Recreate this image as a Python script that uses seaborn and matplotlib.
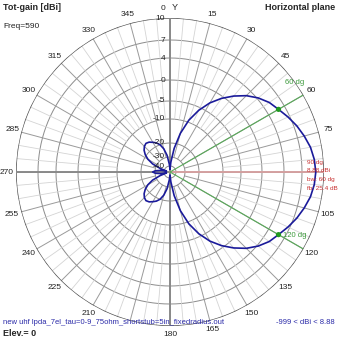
import numpy as np
import pandas as pd
import matplotlib
matplotlib.use("Agg")
import matplotlib.pyplot as plt
import seaborn as sns

# Horizontal-plane total gain (dBi) of the 7-element UHF LPDA, every 5 degrees
azimuth_deg = list(range(0, 360, 5))
gain_dbi = [
    -50.0, -35.6, -23.6, -15.4, -9.4, -5.8, -2.9, -0.5, 1.3, 2.9,      # 0-45
    4.2, 5.2, 5.88, 6.7, 7.4, 7.95, 8.45, 8.75, 8.88, 8.75,             # 50-95
    8.45, 7.95, 7.4, 6.7, 5.88, 5.2, 4.2, 2.9, 1.3, -0.5,               # 100-145
    -2.9, -5.8, -9.4, -15.4, -23.6, -35.6, -50.0, -37.8, -28.6, -23.6,  # 150-195
    -20.0, -18.7, -17.8, -16.9, -16.5, -17.0, -18.0, -19.5, -22.5, -27.0,  # 200-245
    -35.0, -48.0, -36.5, -30.5, -28.3, -30.5, -36.5, -48.0, -35.0, -27.0,  # 250-295
    -22.5, -19.5, -18.0, -17.0, -16.5, -16.9, -17.8, -18.7, -20.0, -23.6,  # 300-345
    -28.6, -37.8,                                                        # 350-355
]

ring_levels = [10, 7, 4, 0, -5, -10, -20, -30, -40]
ring_labels = ["10", "7", "4", "0", "-5", "-10", "-20", "-30", "-40"]
marker_angles = [60, 120]
max_gain = 8.88
beamwidth = 60
front_back = 25.4

# Log-like radial scale (dB -> relative radius)
_SCALE_DB = [-60, -40, -30, -20, -10, -5, 0, 4, 7, 10]
_SCALE_R = [0, 6, 15, 29, 53, 71, 92, 114, 132, 154]


def fwd(v):
    return np.interp(np.asarray(v, float), _SCALE_DB, _SCALE_R)


def inv(r):
    return np.interp(np.asarray(r, float), _SCALE_R, _SCALE_DB)


sns.set_theme(style="white")
plt.rcParams["font.family"] = ["Liberation Sans", "DejaVu Sans"]

W = H = 339
fig = plt.figure(figsize=(W / 100, H / 100), dpi=100)
fig.patch.set_facecolor("white")
cx, cy, R = 170, 172, 154
ax = fig.add_axes([(cx - R) / W, (H - cy - R) / H, 2 * R / W, 2 * R / H],
                  projection="polar")
ax.set_theta_zero_location("N")
ax.set_theta_direction(-1)
ax.set_rscale("function", functions=(fwd, inv))
ax.set_rlim(-60, 10)
ax.grid(False)
ax.set_xticks([])
ax.set_yticks([])
ax.spines["polar"].set_visible(False)
ax.set_facecolor("white")

full = np.linspace(0, 2 * np.pi, 721)
# concentric rings
for lvl in ring_levels[1:]:
    ax.plot(full, np.full_like(full, lvl), color="#8c8c8c", lw=0.7, zorder=1)
ax.plot(full, np.full_like(full, 10), color="#505050", lw=1.0, zorder=2)

# spokes: light every 5 deg, darker every 15 deg
for a in range(0, 360, 5):
    t = np.deg2rad(a)
    if a % 15 == 0:
        ax.plot([t, t], [-30, 10], color="#9a9a9a", lw=0.7, zorder=1)
    else:
        ax.plot([t, t], [-10, 10], color="#d4d4d4", lw=0.6, zorder=1)

# main axes
for a in (0, 180, 270):
    t = np.deg2rad(a)
    ax.plot([t, t], [-60, 10], color="#8a8a8a", lw=1.4, zorder=2)
ax.plot([np.pi / 2] * 2, [-60, 10], color="#d4a0a0", lw=1.4, zorder=2)
for a in marker_angles:
    t = np.deg2rad(a)
    ax.plot([t, t], [-60, 10], color="#5aaa5a", lw=0.8, zorder=2)

# gain pattern
df = pd.DataFrame({
    "theta": np.deg2rad(azimuth_deg + [360]),
    "gain": gain_dbi + [gain_dbi[0]],
})
sns.lineplot(data=df, x="theta", y="gain", sort=False, estimator=None,
             ax=ax, color="#1a1a9a", lw=1.2, zorder=5)
pts = df[df["theta"].isin(np.deg2rad(marker_angles))]
sns.scatterplot(data=pts, x="theta", y="gain", ax=ax, color="#1f9a1f",
                s=14, edgecolor="none", zorder=6)
ax.set_xlabel("")
ax.set_ylabel("")
ax.set_rlim(-60, 10)

fs = 6
# ring labels along the 0-degree axis
for lvl, lab in zip(ring_levels, ring_labels):
    ax.annotate(lab, xy=(0, lvl), xytext=(-5, 0), textcoords="offset pixels",
                ha="right", va="center", fontsize=fs, color="#222222",
                annotation_clip=False, zorder=7)

# azimuth labels
for a in range(15, 360, 15):
    if a in (90, 195):
        continue
    t = np.deg2rad(a)
    off = 9
    ax.annotate(str(a), xy=(t, 10),
                xytext=(off * np.sin(t) * 1.05, off * np.cos(t)),
                textcoords="offset pixels", ha="center", va="center",
                fontsize=fs, color="#222222", annotation_clip=False)

# marker annotations
ax.annotate("60 dg", xy=(np.deg2rad(60), 10), xytext=(-9, 12),
            textcoords="offset pixels", ha="center", va="center",
            fontsize=5.5, color="#3c9a3c", annotation_clip=False)
ax.annotate("120 dg", xy=(np.deg2rad(120), 10), xytext=(-9, 13),
            textcoords="offset pixels", ha="center", va="center",
            fontsize=5.5, color="#3c9a3c", annotation_clip=False)


def ftext(x, y, s, **kw):
    fig.text(x / W, 1 - y / H, s, **kw)


red = "#c83232"
rfs = 4.6
ftext(307, 162, "90 dg", fontsize=rfs, color=red, va="center")
ftext(307, 170.5, f"{max_gain:.2f} dBi", fontsize=rfs, color=red, va="center")
ftext(307, 179.5, f"bw: {beamwidth} dg", fontsize=rfs, color=red, va="center")
ftext(307, 188.5, f"fb: {front_back} dB", fontsize=rfs, color=red, va="center")

ftext(3, 7, "Tot-gain [dBi]", fontsize=6.5, fontweight="bold", va="center")
ftext(3, 27, "Freq=590", fontsize=6, va="center", color="#222222")
ftext(335, 7, "Horizontal plane", fontsize=6.5, fontweight="bold",
      va="center", ha="right")
ftext(163, 8, "0", fontsize=fs, ha="center", va="center")
ftext(175, 8, "Y", fontsize=6.5, ha="center", va="center")

blue = "#2a2aa8"
ftext(3, 323, "new uhf lpda_7el_tau=0-9_75ohm_shortstub=5in_fixedradius.out",
      fontsize=5.5, color=blue, va="center")
ftext(335, 323, f"-999 < dBi < {max_gain:.2f}", fontsize=5.5, color=blue,
      va="center", ha="right")
ftext(3, 333, "Elev.= 0", fontsize=6.5, fontweight="bold", va="center")

fig.savefig("out.png", dpi=100, facecolor="white")
